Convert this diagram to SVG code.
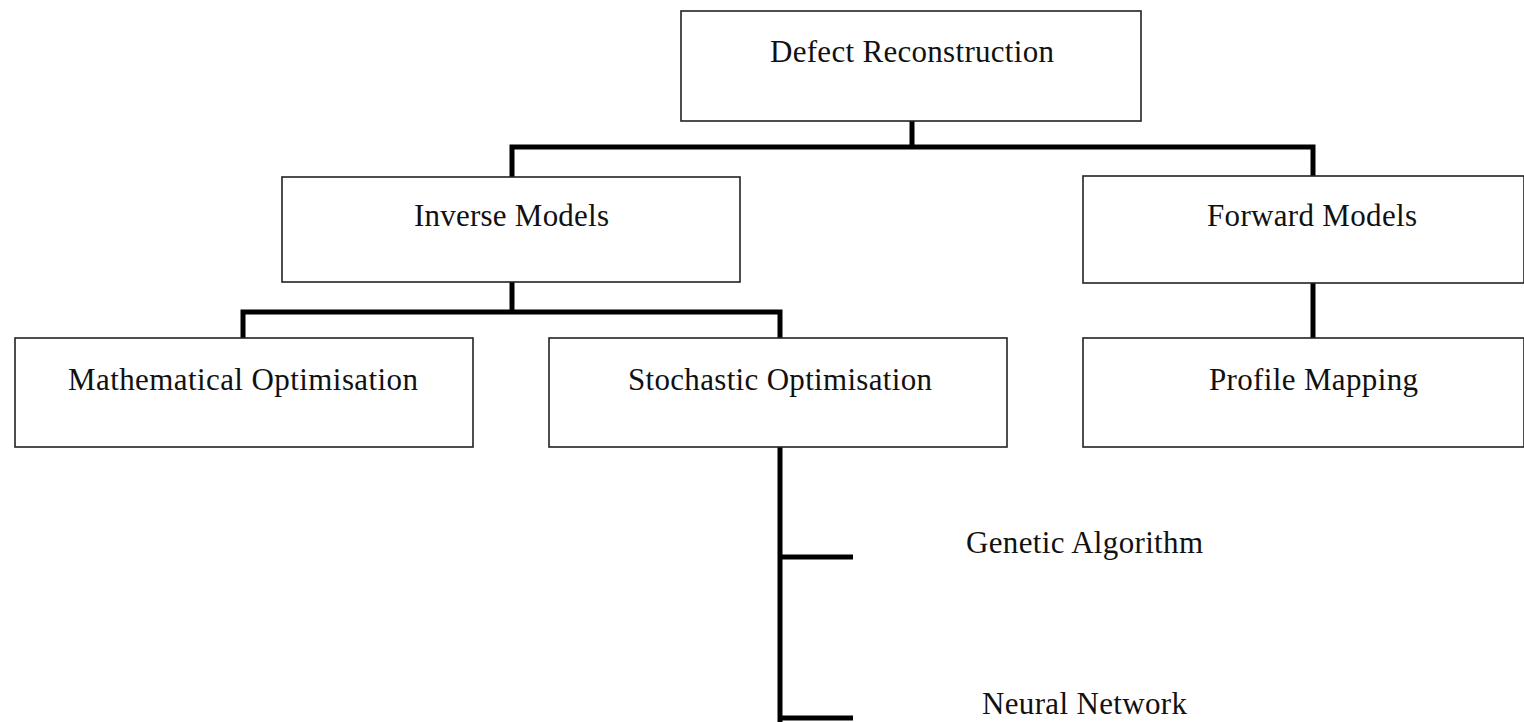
<svg xmlns="http://www.w3.org/2000/svg" width="1524" height="722" viewBox="0 0 1524 722">
<style>
.box{fill:#fff;stroke:#222;stroke-width:1.6}
.lbl{font-family:"Liberation Serif","Times New Roman",serif;font-size:31px;fill:#111}
.conn{fill:none;stroke:#000;stroke-width:5;stroke-linejoin:miter;stroke-linecap:butt}
</style>
<rect width="1524" height="722" fill="#fff"/>
<g id="connectors">
<path class="conn" d="M912,121 V147"/>
<path class="conn" d="M512,177 V147 H1313 V177"/>
<path class="conn" d="M512,282 V312"/>
<path class="conn" d="M243,338 V312 H780 V338"/>
<path class="conn" d="M1313,283 V338"/>
<path class="conn" d="M780,447 V722"/>
<path class="conn" d="M780,557 H853"/>
<path class="conn" d="M780,718 H853"/>
</g>
<g id="defect-reconstruction">
<rect class="box" x="681" y="11" width="460" height="110"/>
<text class="lbl" x="770" y="62" textLength="284" lengthAdjust="spacing">Defect Reconstruction</text>
</g>
<g id="inverse-models">
<rect class="box" x="282" y="177" width="458" height="105"/>
<text class="lbl" x="414" y="226" textLength="195" lengthAdjust="spacing">Inverse Models</text>
</g>
<g id="forward-models">
<rect class="box" x="1083" y="176" width="441" height="107"/>
<text class="lbl" x="1207" y="226" textLength="210" lengthAdjust="spacing">Forward Models</text>
</g>
<g id="mathematical-optimisation">
<rect class="box" x="15" y="338" width="458" height="109"/>
<text class="lbl" x="68" y="390" textLength="350" lengthAdjust="spacing">Mathematical Optimisation</text>
</g>
<g id="stochastic-optimisation">
<rect class="box" x="549" y="338" width="458" height="109"/>
<text class="lbl" x="628" y="390" textLength="304" lengthAdjust="spacing">Stochastic Optimisation</text>
</g>
<g id="profile-mapping">
<rect class="box" x="1083" y="338" width="441" height="109"/>
<text class="lbl" x="1209" y="390" textLength="209" lengthAdjust="spacing">Profile Mapping</text>
</g>
<g id="genetic-algorithm">
<text class="lbl" x="966" y="553" textLength="237" lengthAdjust="spacing">Genetic Algorithm</text>
</g>
<g id="neural-network">
<text class="lbl" x="982" y="714" textLength="205" lengthAdjust="spacing">Neural Network</text>
</g>
</svg>
